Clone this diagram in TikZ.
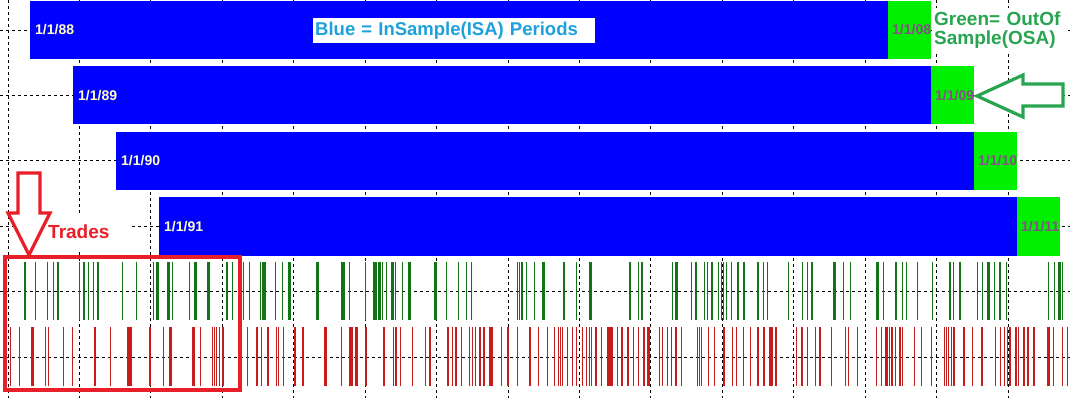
\documentclass[tikz,border=0pt]{standalone}
\usepackage{fontspec}
\setmainfont{Liberation Sans}

\definecolor{isablue}{RGB}{0,0,255}
\definecolor{osagreen}{RGB}{0,240,0}
\definecolor{keyblue}{RGB}{30,160,220}
\definecolor{keygreen}{RGB}{40,165,80}
\definecolor{datefg}{RGB}{255,255,200}
\definecolor{osafg}{RGB}{140,75,140}
\definecolor{trgreen}{RGB}{20,115,20}
\definecolor{trred}{RGB}{195,30,30}
\definecolor{markred}{RGB}{232,30,40}

\tikzset{
  gridline/.style={black,line width=0.8pt,dash pattern=on 3pt off 3pt},
  gtick/.style={trgreen,line width=1.2pt},
  rtick/.style={trred,line width=1.2pt},
  isadate/.style={anchor=west,inner sep=0pt,text=datefg,font=\fontsize{14}{14}\selectfont\bfseries},
  osadate/.style={isadate,text=osafg},
  keybox/.style={anchor=west,fill=white,minimum height=25pt,text width=278pt,inner xsep=2pt,inner ysep=0pt,
    text=keyblue,font=\fontsize{18.5}{20}\selectfont\bfseries},
  osabox/.style={anchor=north west,fill=white,text width=130pt,align=left,inner xsep=2pt,inner ysep=4pt,
    text=keygreen,font=\fontsize{19}{19}\selectfont\bfseries},
  tradesbox/.style={anchor=west,fill=white,text width=82pt,minimum height=36pt,inner sep=0pt,
    text=markred,font=\fontsize{19}{20}\selectfont\bfseries},
  hollow/.style={line width=3.2pt,fill=white,line join=miter}
}

\begin{document}
\begin{tikzpicture}[x=1pt,y=-1pt]
  \useasboundingbox (0,0) rectangle (1070,398);
  \fill[white] (0,0) rectangle (1070,398);

  % grid
  \foreach \k in {0,...,14}
    \draw[gridline] (8+71.43*\k,0) -- (8+71.43*\k,398);
  \foreach \k in {0,...,5}
    \draw[gridline] (0,30+65.4*\k) -- (1070,30+65.4*\k);

  % trades
  \foreach \t in {35.7,47.3,53.3,79.3,88.7,93.3,98,122.7,136.3,153.3,156.7,158,172.7,189.7,227,232.3,243.7,249.7,260.7,265.3,275.3,282.7,316.7,318,342,349.3,365.3,374,376,382.7,386.7,395.3,402.7,408.3,410,434.7,436,446.7,458.7,466.7,471.3,517.3,519.3,526.7,534.5,564,576.7,630,638.7,642,672.7,691.3,696,704.7,707.3,712,718.7,721.3,723.3,726.7,731.3,744,758,763.3,767.3,788.7,802.7,807.3,812,843.3,850.7,883.3,902.7,906.7,917.3,932.7,950,953.3,959.3,960.7,977.3,982.7,994.7,1000,1006.7,1048.7,1054.7,1062.7}
    \draw[gtick] (\t,262) -- (\t,320);
  \foreach \t in {25,58,84,168.7,195.7,208.7,263.3,289.3,344,379.3,392.7,522,543.3,590.7,676.7,738,834.7,877.3,896,988.7,1059.3}
    \draw[gtick,line width=2.6pt] (\t,262) -- (\t,320);
  \foreach \t in {10.7,19.3,45.3,48.7,63.3,72.7,110.7,127.7,129,163.3,193,194.7,200.7,212.7,214.7,216.7,219.7,223,247.3,261.3,268,276.7,278.7,283.3,324.7,326,341.7,352.7,366,393.3,396,400.7,412.7,425.3,430,448,452.7,456,461.3,469.3,472.7,475.3,480,484,492.7,501.3,508,517.3,530,538.7,547.3,554.7,558.7,560.7,562.7,567.3,572.7,576.7,582.7,586.7,589.3,591.3,596,601.3,608,612,617.3,622,628,633.3,638.7,644,659.3,662.7,667.3,671.3,676,681.3,697.3,699.3,701.3,708.7,714.7,732.7,736.7,743.3,750.7,758,763.3,764.7,772,776,796.7,802,807.3,815.3,820,831.3,845.3,848.7,857.3,876.7,881.3,889.3,892,895.3,900,902.7,914.7,921.3,931.3,944.7,946.7,948.7,951.3,954,972.7,982,995.3,1000.7,1004.7,1007.3,1010,1018.7,1024,1028,1034,1049.3,1053.3,1062.7,1067.3}
    \draw[rtick] (\t,327) -- (\t,386);
  \foreach \t in {32.7,95,130.7,150,170.7,257,295,303,350.7,356.7,384,490.7,610,648.7,724,770,886.7,964,1016,1048}
    \draw[rtick,trred!80!red,line width=2.6pt] (\t,327) -- (\t,386);

  % periods
  \foreach \i/\ys/\ye in {0/88/08,1/89/09,2/90/10,3/91/11} {
    \pgfmathsetmacro\xa{30+43*\i}
    \pgfmathsetmacro\xb{888+43*\i}
    \pgfmathsetmacro\xc{931+43*\i}
    \pgfmathsetmacro\ya{1+65.5*\i}
    \pgfmathsetmacro\yb{59+65.5*\i}
    \pgfmathsetmacro\ym{30+65.5*\i}
    \fill[isablue] (\xa,\ya) rectangle (\xb,\yb);
    \fill[osagreen] (\xb,\ya) rectangle (\xc,\yb);
    \node[isadate] (isa\ys) at (\xa+5,\ym) {1/1/\ys};
    \node[osadate] (osa\ye) at (\xb+4,\ym) {1/1/\ye};
  }

  \node[keybox] (isakey) at (313,30.5) {Blue = InSample(ISA) Periods};
  \node[osabox] (osakey) at (932,8) {Green= OutOf\\Sample(OSA)};
  \node[tradesbox] (trades) at (48,232) {Trades};

  \draw[hollow,draw=keygreen] (977,96) -- (1023,75) -- (1023,84) -- (1063,84) -- (1063,106) -- (1023,106) -- (1023,117) -- cycle;
  \draw[hollow,draw=markred] (18,173) -- (40,173) -- (40,213) -- (50,213) -- (29,255) -- (8,213) -- (18,213) -- cycle;
  \draw[markred,line width=3.5pt] (5,257) rectangle (240,390);
\end{tikzpicture}
\end{document}
